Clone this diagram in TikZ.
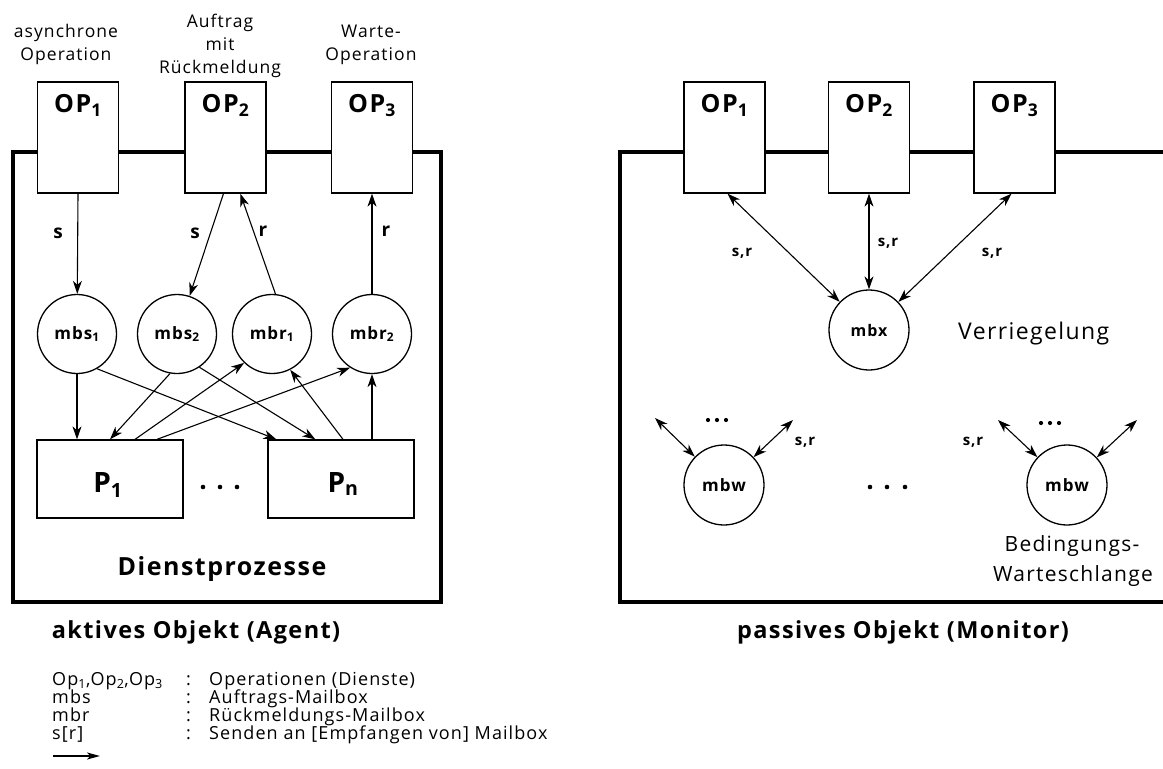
\documentclass[tikz,border=0pt]{standalone}
\usepackage{fontspec}
\setmainfont{Open Sans}[LetterSpace=6]
\usetikzlibrary{arrows.meta,calc}

\newcommand{\fs}[1]{\fontsize{#1}{#1}\selectfont}
\newcommand{\sbs}[1]{\textsubscript{#1}}

\begin{document}
\begin{tikzpicture}[x=1pt,y=-1pt,
  frame/.style={line width=3.8pt, line join=miter, line cap=rect},
  opbox/.style={draw, line width=1.3pt, fill=white, minimum width=81pt,
    minimum height=111pt, inner sep=0pt},
  optext/.style={font=\fs{25}\bfseries, anchor=base, inner sep=0pt},
  mbox/.style={draw, circle, line width=1.3pt, minimum size=79pt,
    inner sep=0pt, font=\fs{17}\bfseries},
  mxbox/.style={draw, circle, line width=1.3pt, minimum size=80pt,
    inner sep=0pt, font=\fs{16}\bfseries},
  pbox/.style={draw, line width=1.3pt, minimum width=146pt,
    minimum height=78pt, inner sep=0pt},
  ptext/.style={font=\fs{28}\bfseries, anchor=base, inner sep=0pt},
  arr/.style={line width=1.1pt, -{Stealth[length=13pt,width=9pt,inset=4pt]}},
  darr/.style={line width=1.1pt,
    {Stealth[length=13pt,width=9pt,inset=4pt]}-{Stealth[length=13pt,width=9pt,inset=4pt]}},
  slbl/.style={font=\fs{19}\bfseries, anchor=base, inner sep=0pt},
  srlbl/.style={font=\fs{15}\bfseries, inner sep=0pt},
  note/.style={font=\fs{17.5}, anchor=base, inner sep=0pt},
  side/.style={font=\fs{21}, anchor=base, inner sep=0pt},
  title/.style={font=\fs{23.5}\bfseries, anchor=base, inner sep=0pt},
  legend/.style={font=\fs{18}, anchor=base west, inner sep=0pt},
]
\useasboundingbox (0,0) rectangle (1163,769);

% ---------- aktives Objekt ----------
\draw[frame] (13,152) rectangle (441,602);

\node[opbox] (L1) at (78,137.5) {};
\node[opbox] (L2) at (225.5,137.5) {};
\node[opbox] (L3) at (372,137.5) {};
\node[optext] at ($(L1.north)+(0,31)$) {OP\sbs{1}};
\node[optext] at ($(L2.north)+(0,31)$) {OP\sbs{2}};
\node[optext] at ($(L3.north)+(0,31)$) {OP\sbs{3}};

\node[note] at (66,37) {asynchrone};
\node[note] at (66,60) {Operation};
\node[note] at (220,27) {Auftrag};
\node[note] at (220,50) {mit};
\node[note] at (220,73) {Rückmeldung};
\node[note] at (371,37) {Warte-};
\node[note] at (371,60) {Operation};

\node[mbox] (mbs1) at (77,334) {mbs\sbs{1}};
\node[mbox] (mbs2) at (177,334) {mbs\sbs{2}};
\node[mbox] (mbr1) at (272,334) {mbr\sbs{1}};
\node[mbox] (mbr2) at (372,334) {mbr\sbs{2}};

\node[pbox] (P1) at (110,479) {};
\node[pbox] (Pn) at (341,479) {};
\node[ptext] at (108,492) {P\sbs{1}};
\node[ptext] at (343,492) {P\sbs{n}};
\foreach \x in {203,220,237} \fill (\x,487) circle (2.3);

\node[font=\fs{25}\bfseries, anchor=base, inner sep=0pt] at (222,575) {Dienstprozesse};
\node[title] at (196,638) {aktives Objekt (Agent)};

% operations to mailboxes
\draw[arr] (L1.south) -- (mbs1);
\node[slbl] at (58,238) {s};
\draw[arr] ($(L2.south)+(-2,0)$) -- (mbs2);
\node[slbl] at (195,238) {s};
\draw[arr] (mbr1.85) -- ($(L2.south)!0.36!(L2.south east)$);
\node[slbl] at (263,236) {r};
\draw[arr] (mbr2.north) -- (L3.south);
\node[slbl] at (386,236) {r};

% mailboxes and service processes
\draw[arr] (mbs1.south) -- (mbs1.south |- P1.north);
\draw[arr] (mbs1.-60) -- ($(Pn.north west)+(9,0)$);
\draw[arr] (mbs2.-56) -- ($(Pn.north west)+(48,0)$);
\draw[arr] (mbs2.-100) -- (P1.north);
\draw[arr] ($(P1.north)+(25,0)$) -- (mbr1.226);
\draw[arr] ($(P1.north)+(47,0)$) -- (mbr2.237);
\draw[arr] ($(Pn.north)+(2,0)$) -- (mbr1.-63);
\draw[arr] (mbr2.south |- Pn.north) -- (mbr2.south);

% ---------- passives Objekt ----------
\draw[frame] (1163,152) -- (620,152) -- (620,602) -- (1163,602);

\node[opbox] (R1) at (724.5,137.5) {};
\node[opbox] (R2) at (869,137.5) {};
\node[opbox] (R3) at (1014.5,137.5) {};
\node[optext] at ($(R1.north)+(0,31)$) {OP\sbs{1}};
\node[optext] at ($(R2.north)+(0,31)$) {OP\sbs{2}};
\node[optext] at ($(R3.north)+(0,31)$) {OP\sbs{3}};

\node[mxbox] (mbx) at (869,330) {mbx};
\draw[darr] ($(R1.south)+(3,0)$) -- (mbx);
\draw[darr] (R2.south) -- (mbx.north);
\draw[darr] ($(R3.south)+(-3,0)$) -- (mbx);
\node[srlbl] at (742,253) {s,r};
\node[srlbl] at (888,243) {s,r};
\node[srlbl] at (992,253) {s,r};
\node[side, font=\fs{23}, anchor=base west] at (958,339) {Verriegelung};

\node[mxbox, font=\fs{17}\bfseries] (mbwA) at (724,485) {mbw};
\node[mxbox, font=\fs{17}\bfseries] (mbwB) at (1067,485) {mbw};
\coordinate (wA1) at (655,418);
\coordinate (wA2) at (793,420);
\coordinate (wB1) at (998,420);
\coordinate (wB2) at (1137,420);
\draw[darr] (wA1) -- (mbwA);
\draw[darr] (wA2) -- (mbwA);
\draw[darr] (wB1) -- (mbwB);
\draw[darr] (wB2) -- (mbwB);
\node[srlbl] at (805,442) {s,r};
\node[srlbl] at (973,442) {s,r};
\foreach \x in {708,717,726} \fill (\x,420) circle (2.1);
\foreach \x in {1041,1050,1059} \fill (\x,423) circle (2.1);
\foreach \x in {870,887,905} \fill (\x,487) circle (2.3);

\node[side] at (1072,551) {Bedingungs-};
\node[side] at (1073,581) {Warteschlange};
\node[title] at (903,638) {passives Objekt (Monitor)};

% ---------- legend ----------
\node[legend] at (52,685) {Op\sbs{1},Op\sbs{2},Op\sbs{3}};
\node[legend] at (52,703) {mbs};
\node[legend] at (52,721) {mbr};
\node[legend] at (52,739) {s[r]};
\foreach \y in {685,703,721,739} \node[legend] at (186,\y) {:};
\node[legend] at (209,685) {Operationen (Dienste)};
\node[legend] at (209,703) {Auftrags-Mailbox};
\node[legend] at (209,721) {Rückmeldungs-Mailbox};
\node[legend] at (209,739) {Senden an [Empfangen von] Mailbox};
\coordinate (k1) at (53,756);
\coordinate (k2) at (100,756);
\draw[line width=1.8pt, -{Stealth[length=13pt,width=7pt,inset=3.5pt]}] (k1) -- (k2);
\end{tikzpicture}
\end{document}
